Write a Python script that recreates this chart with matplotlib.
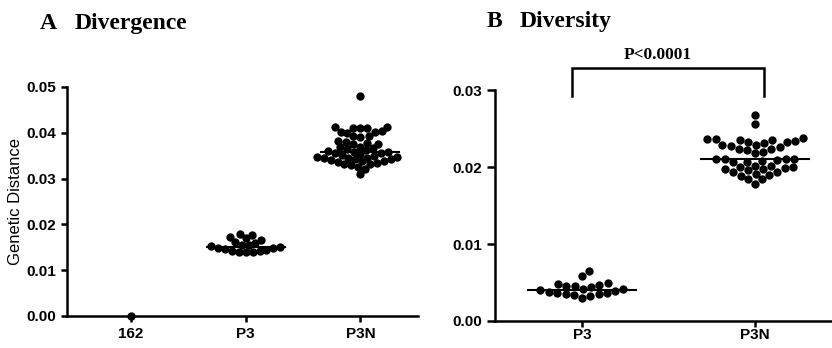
import numpy as np
import matplotlib
matplotlib.use("Agg")
import matplotlib.pyplot as plt

# ---- data ----
div_groups = ["162", "P3", "P3N"]
div_162 = [0.0]
div_p3 = [0.0180, 0.0176, 0.0172, 0.0170, 0.0166, 0.0162, 0.0160, 0.0156,
          0.0154, 0.0152, 0.0150, 0.0149, 0.0148, 0.0146, 0.0145, 0.0142,
          0.0141, 0.0140, 0.0140, 0.0140]
div_p3n = [0.0480,
           0.0413, 0.0412, 0.0411, 0.0410, 0.0410,
           0.0403, 0.0402, 0.0401, 0.0400,
           0.0393, 0.0392, 0.0390,
           0.0382, 0.0380, 0.0378, 0.0376, 0.0375,
           0.0370, 0.0368, 0.0366, 0.0365, 0.0363,
           0.0360, 0.0358, 0.0357, 0.0356, 0.0355, 0.0354, 0.0352,
           0.0350, 0.0348, 0.0347, 0.0346, 0.0345, 0.0344, 0.0343, 0.0342,
           0.0340, 0.0339, 0.0338, 0.0336, 0.0334, 0.0332, 0.0331, 0.0330,
           0.0325, 0.0322, 0.0310]

dvs_groups = ["P3", "P3N"]
dvs_p3 = [0.0065, 0.0058, 0.0049, 0.0048, 0.0047, 0.0046, 0.0045, 0.0044,
          0.0042, 0.0041, 0.0040, 0.0039, 0.0038, 0.0037, 0.0036, 0.0035,
          0.0035, 0.0034, 0.0033, 0.0030]
dvs_p3n = [0.0268, 0.0256,
           0.0238, 0.0237, 0.0236, 0.0235, 0.0235, 0.0234, 0.0233, 0.0232, 0.0231,
           0.0229, 0.0229, 0.0228, 0.0226, 0.0224, 0.0224, 0.0222, 0.0220, 0.0218,
           0.0211, 0.0211, 0.0210, 0.0210, 0.0209, 0.0208, 0.0207, 0.0206,
           0.0202, 0.0201, 0.0200, 0.0200, 0.0199, 0.0198, 0.0197, 0.0196,
           0.0194, 0.0193, 0.0191, 0.0190, 0.0189,
           0.0185, 0.0184, 0.0178]
p_text = "P<0.0001"

plt.rcParams["font.family"] = "Liberation Sans"
serif = "Liberation Serif"


def swarm_x(ax, pos, vals, diam_px):
    # simple beeswarm, done in pixel space then mapped back to data
    vals = np.asarray(vals, float)
    tr = ax.transData
    ypx = tr.transform(np.column_stack([np.full(len(vals), pos), vals]))[:, 1]
    x0 = tr.transform([[pos, 0.0]])[0, 0]
    placed = []
    offs = np.zeros(len(vals))
    for i in np.argsort(vals):
        cands = [0.0]
        for xj, yj in placed:
            dy = ypx[i] - yj
            if abs(dy) < diam_px:
                dx = np.sqrt(diam_px ** 2 - dy ** 2)
                cands += [xj + dx, xj - dx]
        cands.sort(key=abs)
        for c in cands:
            if all((c - xj) ** 2 + (ypx[i] - yj) ** 2 >= diam_px ** 2 - 1e-6
                   for xj, yj in placed):
                break
        placed.append((c, ypx[i]))
        offs[i] = c
    inv = tr.inverted()
    return inv.transform(np.column_stack([x0 + offs, ypx]))[:, 0]


def style(ax, groups, xlim, ylim, yticks, xpad):
    ax.set_xlim(*xlim)
    ax.set_ylim(*ylim)
    ax.set_xticks(range(len(groups)))
    ax.set_xticklabels(groups)
    ax.set_yticks(yticks)
    ax.set_yticklabels(["%.2f" % t for t in yticks])
    for s in ["top", "right"]:
        ax.spines[s].set_visible(False)
    for s in ["left", "bottom"]:
        ax.spines[s].set_linewidth(1.8)
    ax.tick_params(axis="both", width=1.8, length=4, labelsize=11)
    ax.tick_params(axis="x", pad=xpad)
    for lab in ax.get_xticklabels() + ax.get_yticklabels():
        lab.set_fontweight("bold")


def draw_group(ax, pos, vals, half, diam):
    xs = swarm_x(ax, pos, vals, diam)
    ax.scatter(xs, vals, s=36, color="black", linewidths=0, zorder=3, clip_on=False)
    m = np.median(vals)
    ax.plot([pos - half, pos + half], [m, m], color="black", lw=1.5, zorder=4)


fig = plt.figure(figsize=(8.32, 3.48), dpi=100)

# ---- panel A ----
axA = fig.add_axes([0.0805, 0.092, 0.4215, 0.658])
style(axA, div_groups, (-0.56, 2.5), (0, 0.05),
      [0.0, 0.01, 0.02, 0.03, 0.04, 0.05], 4)
axA.set_ylabel("Genetic Distance", fontsize=12, labelpad=3)
draw_group(axA, 0, div_162, 0.0, 7.0)
draw_group(axA, 1, div_p3, 0.34, 7.0)
draw_group(axA, 2, div_p3n, 0.34, 7.0)

# ---- panel B ----
axB = fig.add_axes([0.595, 0.0776, 0.405, 0.6634])
style(axB, dvs_groups, (-0.503, 1.445), (0, 0.03),
      [0.0, 0.01, 0.02, 0.03], 1)
axB.tick_params(axis="y", length=6)
draw_group(axB, 0, dvs_p3, 0.31, 8.5)
draw_group(axB, 1, dvs_p3n, 0.31, 8.5)

# significance bracket
axB.plot([-0.06, -0.06, 1.05, 1.05], [0.0292, 0.03286, 0.03286, 0.0292],
         color="black", lw=1.8, clip_on=False, solid_joinstyle="miter")
axB.text(0.44, 0.03455, p_text, ha="center", va="center", fontsize=12.5,
         fontweight="bold", family=serif)

fig.text(0.048, 0.933, "A", fontsize=17, fontweight="bold",
         family=serif, va="center", ha="left")
fig.text(0.090, 0.933, "Divergence", fontsize=17, fontweight="bold",
         family=serif, va="center", ha="left")
fig.text(0.585, 0.937, "B", fontsize=17, fontweight="bold",
         family=serif, va="center", ha="left")
fig.text(0.624, 0.937, "Diversity", fontsize=17, fontweight="bold",
         family=serif, va="center", ha="left")

fig.savefig("out.png", dpi=100)
